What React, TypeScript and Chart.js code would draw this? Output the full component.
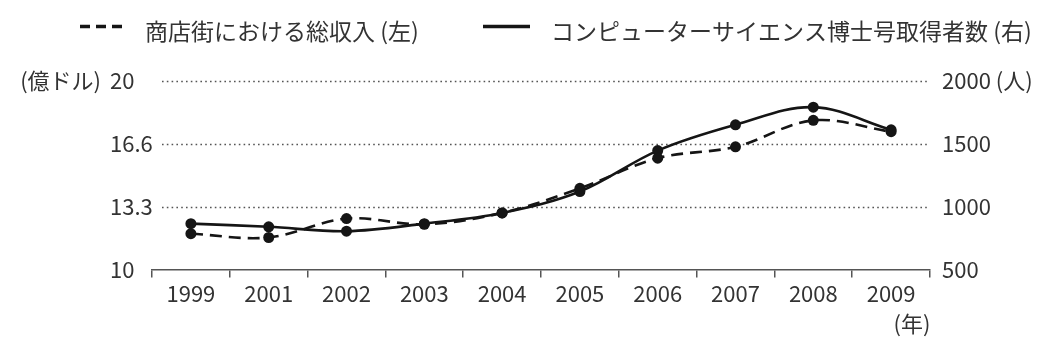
import React, { useEffect, useRef } from "react";
import { Chart, registerables } from "chart.js";

Chart.register(...registerables);

const years = ["1999", "2001", "2002", "2003", "2004", "2005", "2006", "2007", "2008", "2009"];
const revenue = [11.9, 11.7, 12.7, 12.4, 13.0, 14.3, 15.9, 16.5, 17.9, 17.3];
const phds = [865, 840, 805, 865, 950, 1120, 1445, 1650, 1790, 1610];
const leftTickValues = [10, 40 / 3, 50 / 3, 20];
const leftTickLabels = ["10", "13.3", "16.6", "20"];
const rightTickValues = [500, 1000, 1500, 2000];
const rightTickLabels = ["500", "1000", "1500", "2000 (人)"];
const revenueLabel = "商店街における総収入 (左)";
const phdLabel = "コンピューターサイエンス博士号取得者数 (右)";
const leftUnit = "(億ドル)";
const xUnit = "(年)";

const FONT = '"Noto Sans CJK JP", "Noto Sans", sans-serif';
const TEXT = "#333333";
const INK = "#151515";

const annotPlugin = {
  id: "annot",
  beforeDatasetsDraw(chart: any) {
    const { ctx, chartArea, scales } = chart;
    const y = scales.y;
    ctx.save();
    ctx.strokeStyle = "#555555";
    ctx.lineWidth = 1.6;
    ctx.setLineDash([1.6, 3.2]);
    y.ticks.forEach((t: any) => {
      if (t.value <= y.min + 1e-6) return;
      const py = Math.round(y.getPixelForValue(t.value)) + 0.5;
      ctx.beginPath();
      ctx.moveTo(chartArea.left + 10, py);
      ctx.lineTo(chartArea.right - 2, py);
      ctx.stroke();
    });
    ctx.restore();
  },
  afterDraw(chart: any) {
    const { ctx, chartArea, scales } = chart;
    const y = scales.y;
    ctx.save();
    // axis unit labels
    ctx.fillStyle = TEXT;
    ctx.font = `22px ${FONT}`;
    ctx.textBaseline = "middle";
    ctx.textAlign = "right";
    ctx.fillText(leftUnit, y.left - 9, y.getPixelForValue(20));
    ctx.textAlign = "center";
    ctx.fillText(xUnit, chartArea.right - 18, 316);

    // legend
    const items = chart.data.datasets.map((ds: any, i: number) => ({
      text: ds.label,
      dash: ds.borderDash || [],
      x0: i === 0 ? 72 : 475,
      x1: i === 0 ? 114 : 522,
      tx: i === 0 ? 137 : 543,
    }));
    items.forEach((it: any) => {
      ctx.strokeStyle = INK;
      ctx.lineWidth = 3.5;
      ctx.setLineDash(it.dash.length ? [10, 6] : []);
      ctx.beginPath();
      ctx.moveTo(it.x0, 18.5);
      ctx.lineTo(it.x1, 18.5);
      ctx.stroke();
      ctx.setLineDash([]);
      ctx.fillStyle = TEXT;
      ctx.font = `23px ${FONT}`;
      ctx.textAlign = "left";
      ctx.textBaseline = "middle";
      ctx.fillText(it.text, it.tx, 23);
    });
    ctx.restore();
  },
};

export default function App() {
  const ref = useRef<HTMLCanvasElement | null>(null);
  useEffect(() => {
    if (!ref.current) return;
    const chart = new Chart(ref.current, {
      type: "line",
      data: {
        labels: years,
        datasets: [
          {
            label: revenueLabel,
            data: revenue,
            yAxisID: "y",
            borderColor: INK,
            backgroundColor: INK,
            borderWidth: 2.6,
            borderDash: [12, 7],
            pointRadius: 5.5,
            pointBackgroundColor: INK,
            pointBorderWidth: 0,
            pointStyle: "circle",
            tension: 0.35,
          },
          {
            label: phdLabel,
            data: phds,
            yAxisID: "y1",
            borderColor: INK,
            backgroundColor: INK,
            borderWidth: 2.6,
            pointRadius: 5.5,
            pointBackgroundColor: INK,
            pointBorderWidth: 0,
            pointStyle: "circle",
            tension: 0.35,
          },
        ],
      },
      options: {
        animation: false,
        responsive: false,
        maintainAspectRatio: false,
        layout: { padding: { left: 102, right: 0, top: 72.7, bottom: 42 } },
        plugins: {
          legend: { display: false },
          tooltip: { enabled: false },
        },
        scales: {
          x: {
            offset: true,
            grid: {
              display: true,
              offset: true,
              drawOnChartArea: false,
              drawTicks: true,
              tickLength: 8,
              color: "#555555",
              lineWidth: 1.5,
            },
            border: { display: true, color: "#555555", width: 1.5 },
            ticks: {
              color: TEXT,
              padding: 3,
              font: { family: FONT, size: 22 },
              maxRotation: 0,
              autoSkip: false,
            },
          },
          y: {
            position: "left",
            min: 10,
            max: 20,
            afterBuildTicks: (axis: any) => {
              axis.ticks = leftTickValues.map((v) => ({ value: v }));
            },
            afterFit: (axis: any) => {
              axis.width = 42;
            },
            grid: { display: false, drawTicks: false, tickLength: 0 },
            border: { display: false },
            ticks: {
              color: TEXT,
              crossAlign: "far",
              padding: 0,
              font: { family: FONT, size: 22 },
              callback: (_v: any, i: number) => leftTickLabels[i],
            },
          },
          y1: {
            position: "right",
            min: 500,
            max: 2000,
            afterBuildTicks: (axis: any) => {
              axis.ticks = rightTickValues.map((v) => ({ value: v }));
            },
            afterFit: (axis: any) => {
              axis.width = 122;
            },
            grid: { display: false, drawTicks: false, tickLength: 0 },
            border: { display: false },
            ticks: {
              color: TEXT,
              crossAlign: "near",
              padding: 12,
              font: { family: FONT, size: 22 },
              callback: (_v: any, i: number) => rightTickLabels[i],
            },
          },
        },
      },
      plugins: [annotPlugin],
    });
    return () => chart.destroy();
  }, []);
  return (
    <div style={{ width: 1044, height: 344 }}>
      <canvas ref={ref} width={1044} height={344} style={{ width: 1044, height: 344 }} />
    </div>
  );
}
